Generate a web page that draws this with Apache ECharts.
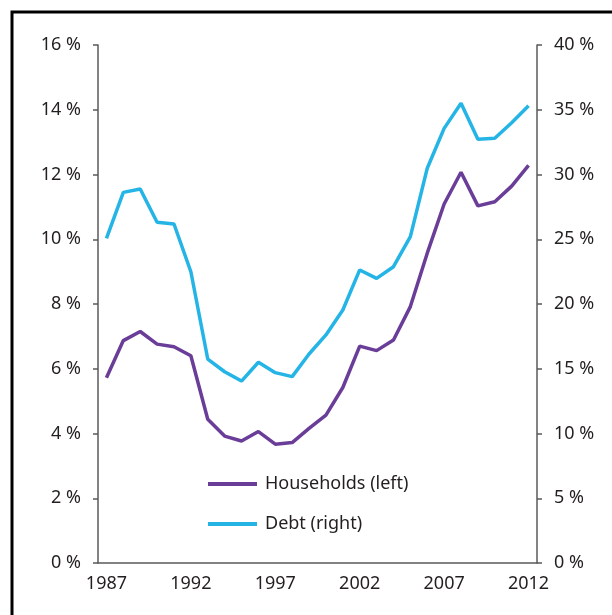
<!DOCTYPE html>
<html>
<head>
<meta charset="utf-8">
<script src="https://cdn.jsdelivr.net/npm/echarts@6/dist/echarts.min.js"></script>
<style>
  html, body { margin: 0; padding: 0; background: #fff; }
  #chart { width: 612px; height: 615px; }
</style>
</head>
<body>
<div id="chart"></div>
<script>
// years on the x axis
const years = [];
for (let y = 1987; y <= 2012; y++) years.push(String(y));

// households, % (left axis)
const households = [5.72, 6.87, 7.15, 6.76, 6.68, 6.40, 4.44, 3.92, 3.77, 4.06,
  3.67, 3.72, 4.16, 4.57, 5.42, 6.70, 6.56, 6.89, 7.92, 9.57,
  11.09, 12.07, 11.03, 11.16, 11.64, 12.28];

// debt, % (right axis)
const debt = [25.07, 28.62, 28.88, 26.31, 26.18, 22.49, 15.75, 14.77, 14.05, 15.50,
  14.70, 14.39, 16.14, 17.61, 19.54, 22.63, 21.98, 22.88, 25.20, 30.48,
  33.56, 35.50, 32.72, 32.80, 34.00, 35.31];

const textColor = "#231f20";
const axisColor = "#5a5a5a";
const font = "Noto Sans";

const yAxisBase = {
  type: "value",
  min: 0,
  axisLine: { show: true, lineStyle: { color: axisColor, width: 1.5 } },
  axisTick: { show: true, length: 5, lineStyle: { color: axisColor, width: 1.5 } },
  splitLine: { show: false },
  axisLabel: {
    color: textColor,
    fontFamily: font,
    fontSize: 18,
    margin: 17,
    formatter: (v) => v + " %",
  },
};

const option = {
  animation: false,
  grid: { left: 98, right: 75, top: 45, bottom: 52 },
  legend: {
    orient: "vertical",
    left: 203,
    top: 470,
    itemWidth: 49,
    itemHeight: 4,
    itemGap: 22,
    icon: "rect",
    textStyle: { color: textColor, fontFamily: font, fontSize: 18, padding: [0, 0, 0, 3] },
    data: ["Households (left)", "Debt (right)"],
  },
  xAxis: {
    type: "category",
    data: years,
    boundaryGap: true,
    axisLine: { lineStyle: { color: axisColor, width: 1.5 } },
    axisTick: { show: false },
    axisLabel: {
      interval: 4,
      color: textColor,
      fontFamily: font,
      fontSize: 18,
      margin: 12,
    },
  },
  yAxis: [
    Object.assign({}, yAxisBase, { position: "left", max: 16, interval: 2 }),
    Object.assign({}, yAxisBase, { position: "right", max: 40, interval: 5 }),
  ],
  graphic: [
    {
      type: "rect",
      shape: { x: 12, y: 12, width: 700, height: 700 },
      style: { fill: "none", stroke: "#000", lineWidth: 3 },
      silent: true,
    },
  ],
  series: [
    {
      name: "Households (left)",
      type: "line",
      yAxisIndex: 0,
      data: households,
      showSymbol: false,
      color: "#6a3e98",
      lineStyle: { width: 3.5, color: "#6a3e98" },
    },
    {
      name: "Debt (right)",
      type: "line",
      yAxisIndex: 1,
      data: debt,
      showSymbol: false,
      color: "#25b4e6",
      lineStyle: { width: 3.5, color: "#25b4e6" },
    },
  ],
};

const chart = echarts.init(document.getElementById("chart"));
chart.setOption(option);
</script>
</body>
</html>
